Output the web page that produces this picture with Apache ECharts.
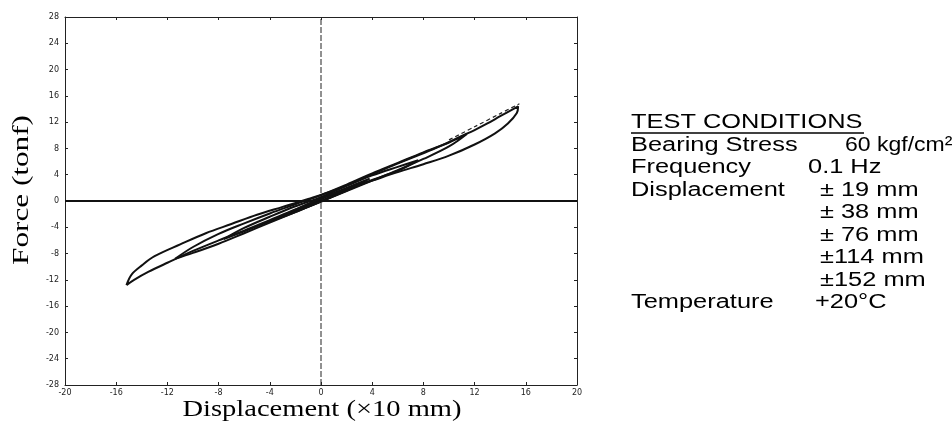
<!DOCTYPE html>
<html lang="en">
<head>
<meta charset="UTF-8" />
<title>Hysteresis</title>
<style>
  html, body { margin: 0; padding: 0; background: #fff; }
  #container { width: 952px; height: 425px; }
</style>
</head>
<body>
<div id="container"></div>
<script src="https://cdn.jsdelivr.net/npm/echarts@6/dist/echarts.min.js"></script>
<script>
// loops: displacement (x10 mm), force (tonf)
var loop19 = [[-1.9,-1.5],[-1,-0.6],[0,0.3],[1,1.1],[1.9,1.8],[1,0.8],[0,-0.1],[-1,-0.9],[-1.9,-1.5]];
var loop38 = [[-3.8,-3.0],[-2,-1.3],[0,0.4],[2,2.0],[3.8,3.4],[2,1.6],[0,0.0],[-2,-1.7],[-3.8,-3.0]];
var loop76 = [[-7.6,-5.8],[-6,-4.1],[-4,-2.4],[-2,-0.8],[0,0.6],[2,2.3],[4,3.9],[6,5.2],[7.6,6.2],
              [6,4.6],[4,3.2],[2,1.6],[0,0.0],[-2,-1.5],[-4,-3.1],[-6,-4.6],[-7.6,-5.8]];
var loop114 = [[-11.4,-8.8],[-10,-7.0],[-8,-5.0],[-6,-3.4],[-4,-1.9],[-2,-0.5],[0,0.9],[2,2.5],[4,4.2],
               [6,5.8],[8,7.4],[10,8.9],[11.4,10.2],[10,8.3],[8,6.4],[6,4.7],[4,3.1],[2,1.5],[0,-0.1],
               [-2,-1.7],[-4,-3.3],[-6,-4.9],[-8,-6.5],[-10,-7.9],[-11.4,-8.8]];
var loop152 = [[-15.2,-12.8],[-14.8,-11.2],[-14,-9.8],[-13,-8.4],[-11,-6.6],[-9,-4.9],[-7,-3.5],[-5,-2.1],
               [-3,-0.9],[-1,0.3],[1,1.6],[3,3.2],[5,4.9],[7,6.5],[9,8.1],[11,9.9],[12,10.8],[13,11.8],
               [14,12.9],[15.4,14.4],[15.3,13.4],[14.6,11.8],[13.6,10.3],[12,8.6],[10,6.9],[8,5.6],
               [6,4.4],[4,3.1],[2,1.8],[0,0.4],[-2,-1.3],[-4,-2.9],[-6,-4.5],[-8,-6.0],[-10,-7.6],
               [-12,-9.4],[-13.5,-10.8],[-14.6,-12.0],[-15.2,-12.8]];
var firstCycle = [[10,9.3],[12,11.3],[14,13.3],[15.5,14.8]];

var xAxisLine = [[0,-28],[0,28]];
var yAxisLine = [[-20,0],[20,0]];

var xTicks = [-20,-16,-12,-8,-4,0,4,8,12,16,20];
var yTicks = [-28,-24,-20,-16,-12,-8,-4,0,4,8,12,16,20,24,28];

var conditions = [
  ['Bearing Stress', '60 kgf/cm\u00b2'],
  ['Frequency', '0.1 Hz'],
  ['Displacement', '\u00b1 19 mm'],
  ['', '\u00b1 38 mm'],
  ['', '\u00b1 76 mm'],
  ['', '\u00b1114 mm'],
  ['', '\u00b1152 mm'],
  ['Temperature', '+20\u00b0C']
];
var valueX = [845, 808, 820, 820, 820, 820, 820, 815];
var valueScale = [1.15, 1.27, 1.27, 1.27, 1.27, 1.27, 1.27, 1.27];

var myChart = echarts.init(document.getElementById('container'));

var sansFont = '20px "Liberation Sans", Arial, sans-serif';
var serifFont = '23px "Liberation Serif", "Times New Roman", serif';

var frameAxis = {
  type: 'value',
  axisLine: { show: true, onZero: false, lineStyle: { color: '#222', width: 1 } },
  axisTick: { show: true, inside: true, length: 3, lineStyle: { color: '#222' } },
  splitLine: { show: false }
};

function loopSeries(data) {
  return {
    type: 'line', data: data, smooth: 0.35, showSymbol: false, silent: true,
    lineStyle: { color: '#111', width: 2 }
  };
}

var graphics = [
  { type: 'text', x: 631, y: 122, scaleX: 1.27,
    style: { text: 'TEST CONDITIONS', font: sansFont, fill: '#000', verticalAlign: 'middle' } },
  { type: 'line', shape: { x1: 631, y1: 133, x2: 864, y2: 133 }, style: { stroke: '#000', lineWidth: 1.5 } },
  { type: 'text', x: 322, y: 410, scaleX: 1.24,
    style: { text: 'Displacement (\u00d710 mm)', font: serifFont, fill: '#000',
             align: 'center', verticalAlign: 'middle' } },
  { type: 'text', x: 22, y: 190, rotation: Math.PI / 2, scaleX: 1.3,
    style: { text: 'Force (tonf)', font: '24px "Liberation Serif", "Times New Roman", serif',
             fill: '#000', align: 'center', verticalAlign: 'middle' } }
];
conditions.forEach(function (row, i) {
  var y = 145 + i * 22.5;
  if (row[0]) {
    graphics.push({ type: 'text', x: 631, y: y, scaleX: 1.27,
      style: { text: row[0], font: sansFont, fill: '#000', verticalAlign: 'middle' } });
  }
  graphics.push({ type: 'text', x: valueX[i], y: y, scaleX: valueScale[i],
    style: { text: row[1], font: sansFont, fill: '#000', verticalAlign: 'middle' } });
});

var option = {
  animation: false,
  backgroundColor: '#fff',
  grid: { left: 65, right: 375, top: 17, bottom: 40 },
  xAxis: [
    Object.assign({}, frameAxis, {
      min: -20, max: 20, interval: 4, position: 'bottom',
      axisLabel: { fontSize: 8, color: '#222', margin: 4, fontFamily: 'DejaVu Sans',
        formatter: function (v) { return xTicks.indexOf(v) >= 0 ? String(v) : ''; } }
    }),
    Object.assign({}, frameAxis, { min: -20, max: 20, interval: 4, position: 'top', axisLabel: { show: false } })
  ],
  yAxis: [
    Object.assign({}, frameAxis, {
      min: -28, max: 28, interval: 4, position: 'left',
      axisLabel: { fontSize: 8, color: '#222', margin: 6, fontFamily: 'DejaVu Sans',
        formatter: function (v) { return yTicks.indexOf(v) >= 0 ? String(v) : ''; } }
    }),
    Object.assign({}, frameAxis, { min: -28, max: 28, interval: 4, position: 'right', axisLabel: { show: false } })
  ],
  series: [
    { type: 'line', data: xAxisLine, showSymbol: false, silent: true,
      lineStyle: { color: '#222', width: 1, type: [6, 2] } },
    { type: 'line', data: yAxisLine, showSymbol: false, silent: true,
      lineStyle: { color: '#111', width: 1.8 } },
    loopSeries(loop19),
    loopSeries(loop38),
    loopSeries(loop76),
    loopSeries(loop114),
    loopSeries(loop152),
    { type: 'line', data: firstCycle, smooth: 0.3, showSymbol: false, silent: true,
      lineStyle: { color: '#222', width: 1.2, type: [4, 3] } }
  ],
  graphic: graphics
};

myChart.setOption(option);
</script>
</body>
</html>
